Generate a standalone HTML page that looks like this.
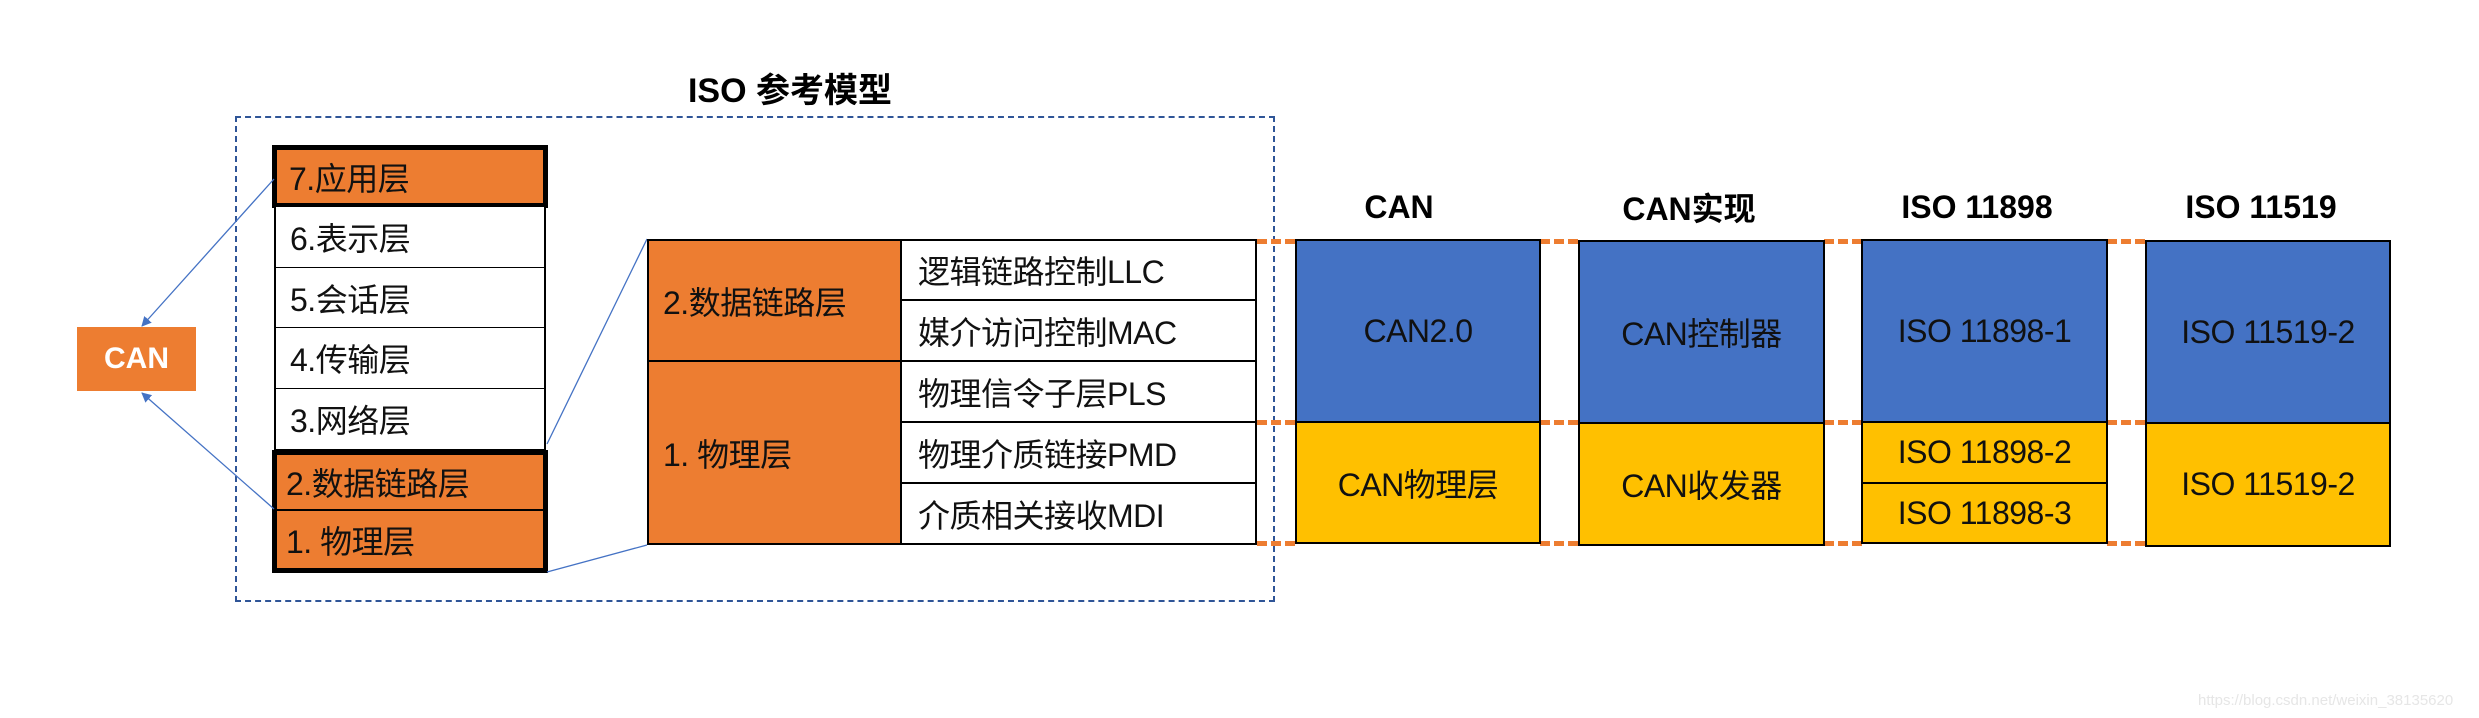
<!DOCTYPE html>
<html><head><meta charset="utf-8"><style>
body{margin:0;width:2479px;height:718px;background:#fff;position:relative;overflow:hidden;font-family:"Liberation Sans","Noto Sans CJK SC",sans-serif;}
.a{position:absolute;box-sizing:border-box;display:flex;align-items:center;}
.c{justify-content:center;}
.o{background:#ED7D31;}
.w{background:#fff;}
.b{background:#4472C4;}
.y{background:#FFC000;}
.t{font-size:32px;color:#111;letter-spacing:-0.5px;}
.h{font-size:32px;font-weight:bold;color:#000;justify-content:center;}
.dot{position:absolute;height:0;border-top:5px dashed #ED7D31;}
</style></head><body>
<div class="a h" style="left:620px;top:64px;width:340px;height:46px;font-size:34px;">ISO 参考模型</div>
<div class="a" style="left:235px;top:116px;width:1040px;height:486px;border:2px dashed #2F5597;"></div>

<div class="a o t" style="left:272px;top:145px;width:276px;height:63px;border:5px solid #000;padding-left:12px;">7.应用层</div>
<div class="a w t" style="left:274px;top:207px;width:272px;height:62px;border:2px solid #000;border-top:none;padding-left:14px;">6.表示层</div>
<div class="a w t" style="left:274px;top:268px;width:272px;height:61px;border:2px solid #000;border-top:none;padding-left:14px;">5.会话层</div>
<div class="a w t" style="left:274px;top:328px;width:272px;height:62px;border:2px solid #000;border-top:none;padding-left:14px;">4.传输层</div>
<div class="a w t" style="left:274px;top:389px;width:272px;height:62px;border:2px solid #000;border-top:none;padding-left:14px;">3.网络层</div>
<div class="a" style="left:272px;top:450px;width:276px;height:123px;border:5px solid #000;"></div>
<div class="a o t" style="left:277px;top:455px;width:266px;height:56px;border-bottom:2px solid #000;padding-left:9px;">2.数据链路层</div>
<div class="a o t" style="left:277px;top:511px;width:266px;height:57px;padding-left:9px;">1. 物理层</div>

<div class="a o c" style="left:77px;top:327px;width:119px;height:64px;color:#fff;font-weight:bold;font-size:30px;">CAN</div>

<svg style="position:absolute;left:0;top:0" width="2479" height="718">
<defs><marker id="ar" markerWidth="10" markerHeight="10" refX="9" refY="5" orient="auto" markerUnits="userSpaceOnUse"><path d="M0,0 L10,5 L0,10 z" fill="#4472C4"/></marker></defs>
<line x1="274" y1="179" x2="142" y2="326" stroke="#4472C4" stroke-width="1.3" marker-end="url(#ar)"/>
<line x1="274" y1="509" x2="142" y2="393" stroke="#4472C4" stroke-width="1.3" marker-end="url(#ar)"/>
<line x1="547" y1="444" x2="647" y2="239" stroke="#4472C4" stroke-width="1.3"/>
<line x1="547" y1="572" x2="647" y2="545" stroke="#4472C4" stroke-width="1.3"/>
</svg>

<div class="a o t" style="left:647px;top:239px;width:255px;height:123px;border:2px solid #000;padding-left:14px;">2.数据链路层</div>
<div class="a o t" style="left:647px;top:360px;width:255px;height:185px;border:2px solid #000;padding-left:14px;">1. 物理层</div>
<div class="a w t" style="left:900px;top:239px;width:357px;height:62px;border:2px solid #000;padding-left:16px;">逻辑链路控制LLC</div>
<div class="a w t" style="left:900px;top:299px;width:357px;height:63px;border:2px solid #000;padding-left:16px;">媒介访问控制MAC</div>
<div class="a w t" style="left:900px;top:360px;width:357px;height:63px;border:2px solid #000;padding-left:16px;">物理信令子层PLS</div>
<div class="a w t" style="left:900px;top:421px;width:357px;height:63px;border:2px solid #000;padding-left:16px;">物理介质链接PMD</div>
<div class="a w t" style="left:900px;top:482px;width:357px;height:63px;border:2px solid #000;padding-left:16px;">介质相关接收MDI</div>

<div class="dot" style="left:1257px;top:239px;width:38px;"></div>
<div class="dot" style="left:1257px;top:420px;width:38px;"></div>
<div class="dot" style="left:1257px;top:541px;width:38px;"></div>
<div class="dot" style="left:1540px;top:239px;width:38px;"></div>
<div class="dot" style="left:1540px;top:420px;width:38px;"></div>
<div class="dot" style="left:1540px;top:541px;width:38px;"></div>
<div class="dot" style="left:1824px;top:239px;width:38px;"></div>
<div class="dot" style="left:1824px;top:420px;width:38px;"></div>
<div class="dot" style="left:1824px;top:541px;width:38px;"></div>
<div class="dot" style="left:2107px;top:239px;width:38px;"></div>
<div class="dot" style="left:2107px;top:420px;width:38px;"></div>
<div class="dot" style="left:2107px;top:541px;width:38px;"></div>

<div class="a h" style="left:1299px;top:185px;width:200px;height:44px;">CAN</div>
<div class="a h" style="left:1569px;top:185px;width:240px;height:44px;">CAN实现</div>
<div class="a h" style="left:1857px;top:185px;width:240px;height:44px;">ISO 11898</div>
<div class="a h" style="left:2141px;top:185px;width:240px;height:44px;">ISO 11519</div>

<div class="a b t c" style="left:1295px;top:239px;width:246px;height:184px;border:2px solid #000;">CAN2.0</div>
<div class="a y t c" style="left:1295px;top:421px;width:246px;height:123px;border:2px solid #000;">CAN物理层</div>
<div class="a b t c" style="left:1578px;top:240px;width:247px;height:184px;border:2px solid #000;">CAN控制器</div>
<div class="a y t c" style="left:1578px;top:422px;width:247px;height:124px;border:2px solid #000;">CAN收发器</div>
<div class="a b t c" style="left:1861px;top:239px;width:247px;height:184px;border:2px solid #000;">ISO 11898-1</div>
<div class="a y t c" style="left:1861px;top:421px;width:247px;height:63px;border:2px solid #000;">ISO 11898-2</div>
<div class="a y t c" style="left:1861px;top:482px;width:247px;height:62px;border:2px solid #000;">ISO 11898-3</div>
<div class="a b t c" style="left:2145px;top:240px;width:246px;height:184px;border:2px solid #000;">ISO 11519-2</div>
<div class="a y t c" style="left:2145px;top:422px;width:246px;height:125px;border:2px solid #000;">ISO 11519-2</div>

<div class="a" style="left:2198px;top:688px;width:280px;height:24px;font-size:15px;color:#e6e6e6;">https://blog.csdn.net/weixin_38135620</div>
</body></html>
